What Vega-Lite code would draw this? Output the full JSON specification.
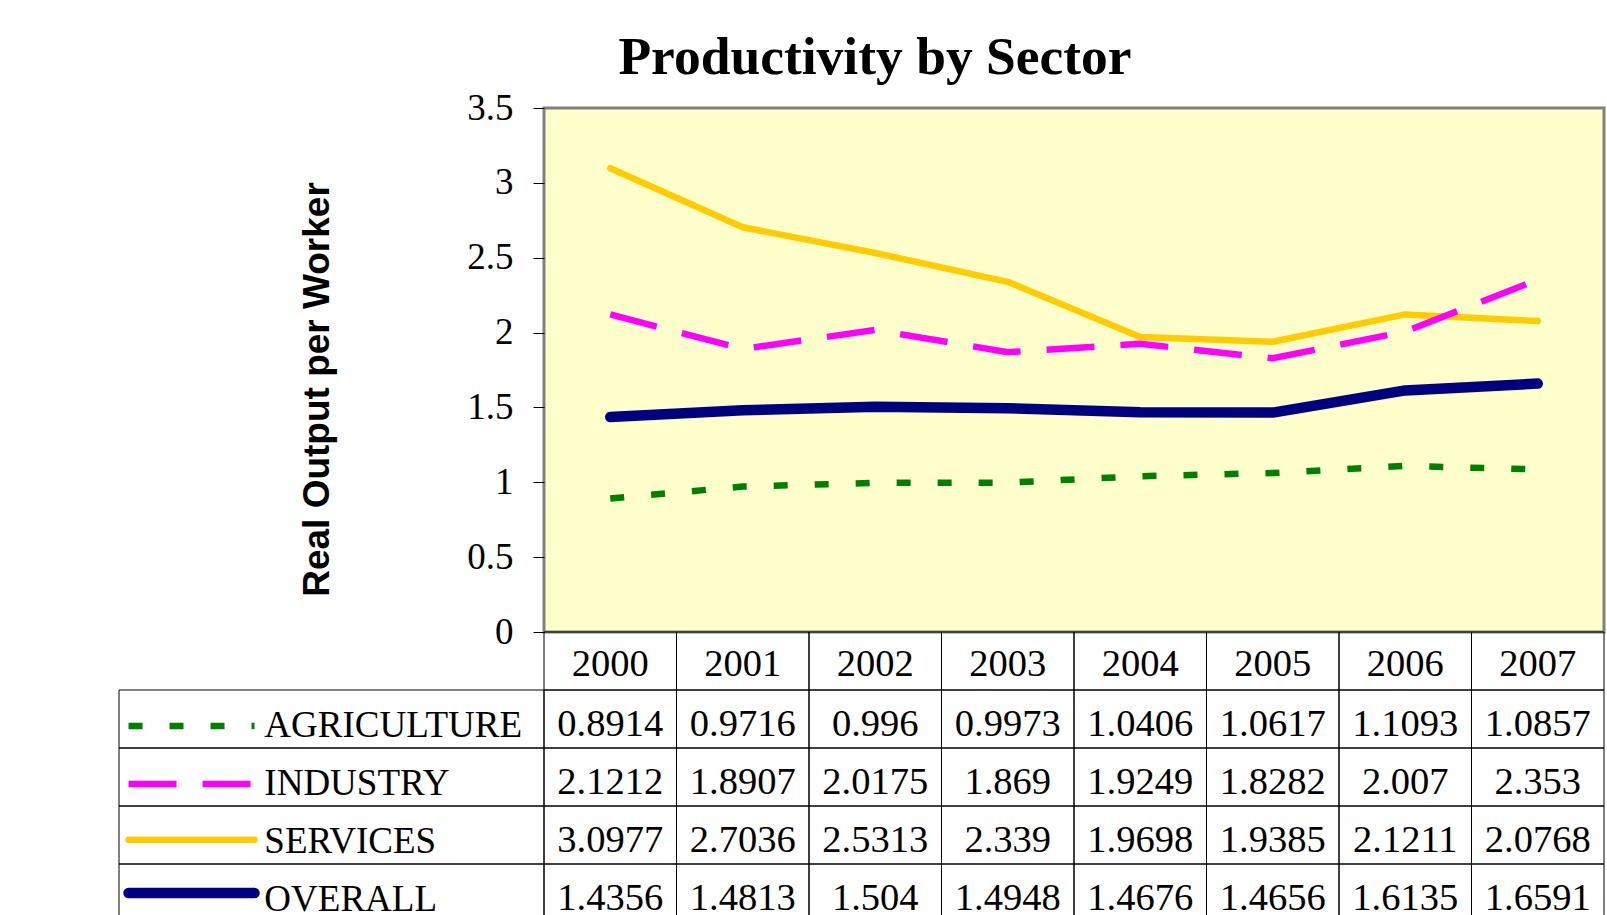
{
  "$schema": "https://vega.github.io/schema/vega-lite/v6.json",
  "background": "#ffffff",
  "padding": {"left": 118, "top": 31, "right": 2, "bottom": 0},
  "title": {"text": "Productivity by Sector", "font": "Liberation Serif", "fontSize": 53.5, "fontWeight": "bold", "color": "#000000", "anchor": "middle", "offset": 2, "dx": 13},
  "config": {"view": {"stroke": null}},
  "datasets": {
    "prod": [
      {"year": 2000, "sector": "AGRICULTURE", "value": 0.8914},
      {"year": 2001, "sector": "AGRICULTURE", "value": 0.9716},
      {"year": 2002, "sector": "AGRICULTURE", "value": 0.996},
      {"year": 2003, "sector": "AGRICULTURE", "value": 0.9973},
      {"year": 2004, "sector": "AGRICULTURE", "value": 1.0406},
      {"year": 2005, "sector": "AGRICULTURE", "value": 1.0617},
      {"year": 2006, "sector": "AGRICULTURE", "value": 1.1093},
      {"year": 2007, "sector": "AGRICULTURE", "value": 1.0857},
      {"year": 2000, "sector": "INDUSTRY", "value": 2.1212},
      {"year": 2001, "sector": "INDUSTRY", "value": 1.8907},
      {"year": 2002, "sector": "INDUSTRY", "value": 2.0175},
      {"year": 2003, "sector": "INDUSTRY", "value": 1.869},
      {"year": 2004, "sector": "INDUSTRY", "value": 1.9249},
      {"year": 2005, "sector": "INDUSTRY", "value": 1.8282},
      {"year": 2006, "sector": "INDUSTRY", "value": 2.007},
      {"year": 2007, "sector": "INDUSTRY", "value": 2.353},
      {"year": 2000, "sector": "SERVICES", "value": 3.0977},
      {"year": 2001, "sector": "SERVICES", "value": 2.7036},
      {"year": 2002, "sector": "SERVICES", "value": 2.5313},
      {"year": 2003, "sector": "SERVICES", "value": 2.339},
      {"year": 2004, "sector": "SERVICES", "value": 1.9698},
      {"year": 2005, "sector": "SERVICES", "value": 1.9385},
      {"year": 2006, "sector": "SERVICES", "value": 2.1211},
      {"year": 2007, "sector": "SERVICES", "value": 2.0768},
      {"year": 2000, "sector": "OVERALL", "value": 1.4356},
      {"year": 2001, "sector": "OVERALL", "value": 1.4813},
      {"year": 2002, "sector": "OVERALL", "value": 1.504},
      {"year": 2003, "sector": "OVERALL", "value": 1.4948},
      {"year": 2004, "sector": "OVERALL", "value": 1.4676},
      {"year": 2005, "sector": "OVERALL", "value": 1.4656},
      {"year": 2006, "sector": "OVERALL", "value": 1.6135},
      {"year": 2007, "sector": "OVERALL", "value": 1.6591}
    ]
  },
  "columns": 2,
  "spacing": 0,
  "bounds": "flush",
  "align": "each",
  "concat": [
    {
      "width": 425,
      "height": 524,
      "data": {"values": []},
      "mark": {"type": "rule"},
      "encoding": {}
    },
    {
      "width": 1060,
      "height": 524,
      "data": {"name": "prod"},
      "view": {"fill": "#FFFFCC", "stroke": "#808080", "strokeWidth": 3},
      "encoding": {
        "x": {"field": "year", "type": "ordinal", "scale": {"type": "point", "padding": 0.5}, "axis": null},
        "y": {
          "field": "value", "type": "quantitative",
          "scale": {"domain": [0, 3.5], "nice": false, "zero": true},
          "axis": {
            "values": [0, 0.5, 1, 1.5, 2, 2.5, 3, 3.5], "format": "~g",
            "labelFont": "Liberation Serif", "labelFontSize": 37, "labelColor": "#000000",
            "tickColor": "#000000", "tickSize": 11, "labelPadding": 20, "domain": false, "grid": false,
            "title": "Real Output per Worker", "titleFont": "Liberation Sans", "titleFontSize": 37,
            "titleFontWeight": "bold", "titleColor": "#000000", "titlePadding": 130, "titleY": 281
          }
        },
        "color": {
          "field": "sector", "type": "nominal",
          "scale": {"domain": ["AGRICULTURE", "INDUSTRY", "SERVICES", "OVERALL"], "range": ["#008000", "#FF00FF", "#FFCC00", "#000080"]},
          "legend": null
        }
      },
      "layer": [
        {
          "transform": [{"filter": "datum.sector === 'SERVICES'"}],
          "mark": {"type": "line", "strokeCap": "round", "strokeJoin": "round", "strokeWidth": 6.5}
        },
        {
          "transform": [{"filter": "datum.sector === 'OVERALL'"}],
          "mark": {"type": "line", "strokeCap": "round", "strokeJoin": "round", "strokeWidth": 10.5}
        },
        {
          "transform": [{"filter": "datum.sector === 'AGRICULTURE' || datum.sector === 'INDUSTRY'"}],
          "mark": {"type": "line", "strokeCap": "butt", "strokeJoin": "miter", "strokeWidth": 6.5},
          "encoding": {
            "strokeDash": {
              "field": "sector", "type": "nominal",
              "scale": {"domain": ["AGRICULTURE", "INDUSTRY"], "range": [[14, 27], [48, 26]]},
              "legend": null
            }
          }
        }
      ]
    },
    {
      "width": 425,
      "height": 290,
      "data": {"name": "prod"},
      "transform": [{"aggregate": [{"op": "count", "as": "n"}], "groupby": ["sector"]}],
      "encoding": {
        "y": {"field": "sector", "type": "nominal", "scale": {"domain": ["header", "AGRICULTURE", "INDUSTRY", "SERVICES", "OVERALL"], "paddingInner": 0, "paddingOuter": 0}, "axis": null},
        "color": {"field": "sector", "type": "nominal", "scale": {"domain": ["AGRICULTURE", "INDUSTRY", "SERVICES", "OVERALL"], "range": ["#008000", "#FF00FF", "#FFCC00", "#000080"]}, "legend": null}
      },
      "layer": [
        {
          "mark": {"type": "rect", "filled": false, "stroke": "#000000", "strokeWidth": 1}
        },
        {
          "transform": [{"filter": "datum.sector === 'SERVICES'"}],
          "mark": {"type": "rule", "strokeCap": "round", "strokeWidth": 6.5},
          "encoding": {
            "x": {"datum": 0.0224, "type": "quantitative", "scale": {"domain": [0, 1], "nice": false, "zero": false}, "axis": null},
            "x2": {"datum": 0.3188},
            "y": {"field": "sector", "type": "nominal", "bandPosition": 0.58, "axis": null}
          }
        },
        {
          "transform": [{"filter": "datum.sector === 'OVERALL'"}],
          "mark": {"type": "rule", "strokeCap": "round", "strokeWidth": 10.5},
          "encoding": {
            "x": {"datum": 0.0224, "type": "quantitative", "axis": null},
            "x2": {"datum": 0.3188},
            "y": {"field": "sector", "type": "nominal", "bandPosition": 0.5, "axis": null}
          }
        },
        {
          "transform": [{"filter": "datum.sector === 'AGRICULTURE' || datum.sector === 'INDUSTRY'"}],
          "mark": {"type": "rule", "strokeCap": "butt", "strokeWidth": 6.5},
          "encoding": {
            "x": {"datum": 0.0224, "type": "quantitative", "axis": null},
            "x2": {"datum": 0.3188},
            "y": {"field": "sector", "type": "nominal", "bandPosition": 0.62, "axis": null},
            "strokeDash": {"field": "sector", "type": "nominal", "scale": {"domain": ["AGRICULTURE", "INDUSTRY"], "range": [[14, 27], [48, 26]]}, "legend": null}
          }
        },
        {
          "mark": {"type": "text", "align": "left", "baseline": "middle", "dy": 7, "font": "Liberation Serif", "fontSize": 37, "color": "#000000"},
          "encoding": {
            "x": {"datum": 0.342, "type": "quantitative", "axis": null},
            "text": {"field": "sector", "type": "nominal"},
            "color": {"value": "#000000"}
          }
        }
      ]
    },
    {
      "width": 1060,
      "height": 290,
      "data": {"name": "prod"},
      "layer": [
        {
          "mark": {"type": "rect", "filled": false, "color": "#000000", "strokeWidth": 1},
          "encoding": {
            "x": {"field": "year", "type": "ordinal", "scale": {"type": "band", "paddingInner": 0, "paddingOuter": 0}, "axis": null},
            "y": {"field": "sector", "type": "nominal", "scale": {"domain": ["header", "AGRICULTURE", "INDUSTRY", "SERVICES", "OVERALL"], "paddingInner": 0, "paddingOuter": 0}, "axis": null}
          }
        },
        {
          "mark": {"type": "text", "align": "center", "baseline": "middle", "dy": 5, "font": "Liberation Serif", "fontSize": 38.5, "color": "#000000"},
          "encoding": {
            "x": {"field": "year", "type": "ordinal", "axis": null},
            "y": {"field": "sector", "type": "nominal", "axis": null},
            "text": {"field": "value", "type": "nominal"}
          }
        },
        {
          "transform": [{"aggregate": [{"op": "count", "as": "n"}], "groupby": ["year"]}],
          "mark": {"type": "rect", "filled": false, "color": "#000000", "strokeWidth": 1},
          "encoding": {
            "x": {"field": "year", "type": "ordinal", "axis": null},
            "y": {"datum": "header", "type": "nominal", "axis": null}
          }
        },
        {
          "transform": [{"aggregate": [{"op": "count", "as": "n"}], "groupby": ["year"]}],
          "mark": {"type": "text", "align": "center", "baseline": "middle", "dy": 3, "font": "Liberation Serif", "fontSize": 38.5, "color": "#000000"},
          "encoding": {
            "x": {"field": "year", "type": "ordinal", "axis": null},
            "y": {"datum": "header", "type": "nominal", "axis": null},
            "text": {"field": "year", "type": "nominal"}
          }
        }
      ]
    }
  ]
}
